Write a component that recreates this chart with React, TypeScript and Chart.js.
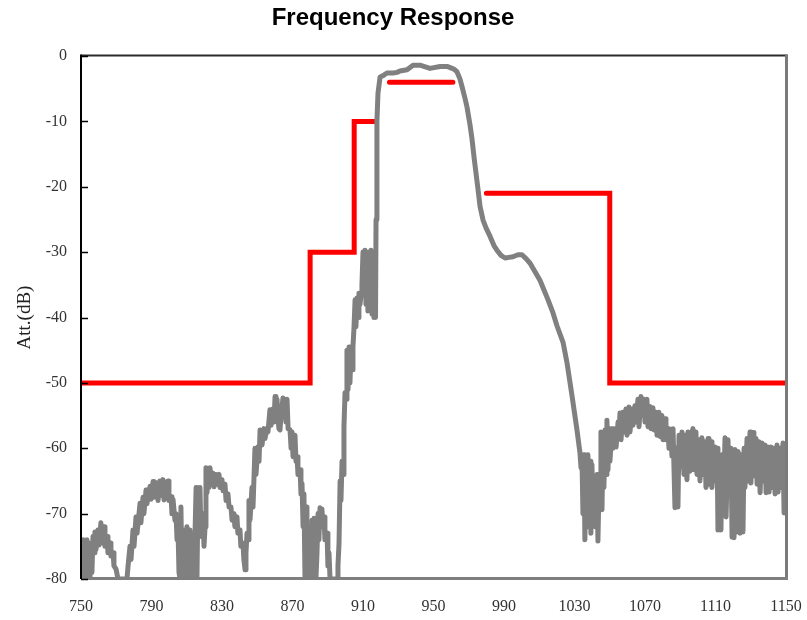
import React, { useEffect, useRef } from "react";
import { Chart, registerables } from "chart.js";

Chart.register(...registerables);

const chartTitle = "Frequency Response";
const yAxisTitle = "Att.(dB)";
const xTicks = [750, 790, 830, 870, 910, 950, 990, 1030, 1070, 1110, 1150];
const yTicks = [0, -10, -20, -30, -40, -50, -60, -70, -80];

// Specification mask (red), null = gap
const maskFreq = [750, 880, 880, 905, 905, 917, 921, 925, 961, 970, 980, 1050, 1050, 1150];
const maskAtt: (number | null)[] = [-50, -50, -30, -30, -10, -10, null, -4, -4, null, -21, -21, -50, -50];

// Measured response (gray): [MHz, dB]
const measuredResponse: [number, number][] = [
  [750.0, -76], [750.6, -79.5], [751.1, -74], [751.7, -79], [752.3, -74.5], [752.8, -80], [753.4, -74], [754.0, -79],
  [754.5, -75], [755.1, -80], [755.7, -74.5], [756.2, -79], [756.8, -73.5], [757.4, -76], [757.9, -72.8], [758.5, -75.5],
  [759.6, -72.5], [760.2, -74.8], [761.3, -71.4], [761.9, -74.5], [763.1, -72], [763.6, -75], [764.8, -73.5], [765.3, -76],
  [766.5, -74.5], [767.0, -76.5], [768.2, -76], [768.7, -78], [769.9, -78.5], [771.0, -80], [776.1, -80],
  [776.7, -78], [777.8, -75], [778.4, -77], [779.5, -72.5], [780.1, -75], [781.2, -70.5], [781.8, -73], [783.5, -68.4],
  [784.0, -71.4], [785.2, -67.5], [785.7, -70], [786.9, -66.4], [787.4, -68.5], [789.2, -65.8], [789.7, -67.8], [790.9, -65.1],
  [791.4, -67.5], [793.1, -65.3], [793.7, -68], [794.8, -65], [795.4, -67.2], [796.5, -64.8], [797.1, -67.9], [798.2, -65.2],
  [798.8, -67], [799.4, -65], [799.9, -68], [801.1, -67.4], [801.6, -70], [802.2, -67.8], [803.3, -71], [803.9, -70],
  [804.5, -74], [805.0, -72], [805.6, -79], [806.2, -80],
  [806.7, -69], [807.3, -80], [807.9, -73], [808.4, -80], [809.0, -72.5], [809.6, -79], [810.1, -72], [810.7, -80],
  [811.3, -72.5], [811.8, -78], [812.4, -73], [813.0, -80], [813.5, -74], [814.1, -80], [815.3, -66], [815.8, -80],
  [816.4, -66.5], [817.0, -73], [817.5, -66], [818.1, -73.5], [819.2, -70], [819.8, -75], [820.4, -72], [820.9, -63],
  [821.5, -66.8],
  [822.1, -63.5], [822.6, -66], [823.2, -63], [823.8, -65.5], [824.9, -63.8], [825.5, -65.9], [826.6, -64], [827.2, -65.5],
  [828.3, -64], [828.9, -66], [830.0, -64.8], [830.6, -66.5], [831.7, -65.5], [832.3, -68], [833.4, -67], [834.0, -69],
  [835.1, -69], [835.7, -71], [836.8, -70], [837.3, -72], [838.5, -70.5], [839.0, -73], [840.2, -72.5], [840.7, -75],
  [841.9, -74.5], [842.4, -77], [843.1, -78.6],
  [843.6, -76], [844.2, -73], [844.8, -74], [845.3, -68], [845.9, -71], [847.0, -66], [847.6, -69], [848.7, -60],
  [849.3, -64], [850.4, -59.8], [851.0, -62], [851.6, -57.2], [852.7, -59.5], [853.8, -57], [854.4, -58.5], [855.5, -57],
  [856.1, -57.5], [857.2, -54.1], [857.8, -56.5], [858.9, -54], [859.5, -56], [860.1, -52.1], [860.6, -55], [861.2, -52.5],
  [861.8, -55.5], [862.3, -57], [862.9, -57.2], [863.5, -55], [864.6, -52.3], [865.2, -55], [865.7, -52.5], [866.3, -56],
  [866.9, -52.5], [867.5, -57], [868.6, -57.2], [869.2, -60], [869.7, -57.5], [870.3, -61.3], [871.4, -58], [872.0, -62],
  [872.6, -61.3], [873.1, -64], [874.3, -63.3], [874.8, -67], [875.4, -65.4], [876.0, -72], [876.5, -67], [877.1, -80],
  [877.7, -69], [878.2, -80], [878.8, -72], [879.4, -80], [879.9, -72.5], [880.5, -80], [881.1, -71], [881.6, -80],
  [882.2, -70.7], [882.8, -71.4], [883.3, -80], [883.9, -76], [884.5, -70], [885.0, -74], [885.6, -69.1], [886.2, -72],
  [886.7, -69.3], [887.3, -72], [887.9, -70.5], [888.4, -74], [889.6, -73], [890.1, -78], [890.7, -76], [891.3, -80],
  [895.3, -80],
  [895.8, -78], [896.4, -74.5], [897.0, -65], [897.5, -68], [898.1, -62], [898.7, -64], [899.2, -56.7], [899.8, -51.5],
  [900.4, -52.5], [900.9, -45], [901.5, -51], [902.1, -44.5], [902.6, -50], [903.2, -45], [903.8, -48], [904.3, -44.5],
  [904.9, -41.5], [905.5, -37.3], [906.0, -41.4], [906.6, -37], [907.2, -40], [907.7, -36.3], [908.3, -38], [908.9, -36.5],
  [909.4, -35], [910.0, -30], [910.6, -34.5], [911.1, -29.7], [911.7, -38], [912.3, -30], [912.8, -39], [913.4, -30.5],
  [914.0, -38], [914.5, -29.7], [915.1, -39.5], [915.7, -31], [916.2, -40], [916.8, -33], [917.1, -40], [917.4, -25],
  [917.9, -10], [918.5, -5.7], [919.7, -3.2], [921.4, -3.0], [923.6, -2.6], [927.0, -2.6], [929.3, -2.5], [931.0, -2.3],
  [935.0, -2.1], [938.4, -1.4], [942.3, -1.4], [948.0, -1.9], [953.7, -1.6], [957.7, -1.6], [961.6, -2.0], [963.3, -2.4],
  [965.0, -3.5], [966.2, -4.7], [967.9, -6.5], [969.0, -7.8], [970.7, -10.5], [971.9, -12.8], [973.0, -15.5], [974.1, -17.9],
  [975.3, -20.5], [976.4, -23], [978.1, -25.1], [979.8, -26.3], [982.1, -27.6], [984.3, -29], [986.0, -29.7], [988.3, -30.5],
  [990.6, -30.9], [992.8, -30.8], [995.1, -30.7], [997.9, -30.4], [1000.2, -30.4], [1002.5, -31], [1004.8, -31.7], [1007.6, -33],
  [1010.4, -34.3], [1012.7, -35.8], [1015.0, -37.3], [1017.8, -39.3], [1020.1, -41.3], [1023.5, -43.8], [1025.8, -47], [1028.6, -52],
  [1031.4, -57.2], [1033.1, -60.7],
  [1033.7, -63], [1034.2, -61], [1034.8, -70], [1035.4, -61], [1035.9, -74], [1036.5, -62], [1037.1, -72], [1037.6, -61],
  [1038.2, -68], [1038.8, -62], [1039.3, -73], [1039.9, -62.5], [1040.5, -70], [1041.0, -66], [1041.6, -72], [1042.8, -64],
  [1043.3, -74.2], [1043.9, -66], [1044.5, -69], [1045.0, -57.5], [1045.6, -69.4], [1046.2, -58], [1046.7, -66], [1047.3, -57.2],
  [1047.9, -64], [1048.4, -55.7], [1049.0, -63.3], [1049.6, -57], [1050.1, -62], [1051.3, -57], [1051.8, -60], [1053.0, -57],
  [1053.6, -59.8], [1054.7, -56], [1055.2, -58.5], [1055.8, -54.6], [1056.4, -58.7], [1057.5, -54.5], [1058.1, -57.5], [1059.2, -54],
  [1059.8, -58], [1060.9, -53.7], [1061.5, -57.5], [1062.6, -54], [1063.2, -56.5], [1064.3, -53.5], [1064.9, -56], [1066.0, -52.5],
  [1066.6, -56.7], [1067.7, -52.1], [1068.3, -55], [1069.4, -52.5], [1070.0, -56], [1071.1, -52.5], [1071.7, -56.7], [1072.8, -53.6],
  [1073.4, -57], [1074.5, -53.8], [1075.1, -57.2], [1076.2, -54.5], [1076.8, -58], [1077.9, -54.5], [1078.5, -58.2], [1079.6, -55],
  [1080.2, -58.7], [1081.4, -55.5], [1081.9, -58.7], [1083.1, -57], [1083.6, -60], [1084.8, -58.2], [1085.3, -61.2], [1085.9, -57],
  [1087.0, -69.1], [1087.6, -60], [1088.7, -69], [1089.3, -58], [1090.4, -62.8], [1091.0, -57.5], [1092.1, -64], [1092.7, -58],
  [1093.8, -64.8], [1094.4, -57.5], [1095.5, -63.5], [1096.1, -58.3], [1097.2, -57], [1097.8, -63.3], [1098.9, -57.5], [1099.5, -64],
  [1100.6, -58.7], [1101.2, -65], [1102.3, -58.4], [1102.9, -64], [1104.0, -59], [1104.6, -66], [1105.8, -58.5], [1106.3, -65.5],
  [1107.5, -59], [1108.0, -66], [1109.2, -59.8], [1109.7, -65], [1110.9, -60], [1111.4, -72.5], [1112.0, -61], [1112.6, -64],
  [1113.1, -72.5], [1113.7, -61], [1114.3, -70], [1115.4, -58.4], [1116.0, -70.5], [1117.1, -58.7], [1117.7, -67], [1118.8, -60],
  [1119.4, -73.6], [1119.9, -61], [1120.5, -73.7], [1121.1, -60.2], [1122.2, -72.8], [1122.8, -60.5], [1123.9, -73], [1124.5, -61],
  [1125.6, -72.8], [1126.2, -60], [1126.7, -66], [1127.9, -58.5], [1128.4, -65], [1129.6, -57.5], [1130.1, -65.3], [1131.3, -57.6],
  [1131.8, -64.2], [1133.0, -58.5], [1133.6, -65.5], [1134.7, -59], [1135.3, -66.8], [1136.4, -59.2], [1137.0, -65], [1138.1, -59.5],
  [1138.7, -66.8], [1139.8, -59.8], [1140.4, -66.7], [1141.5, -59.8], [1142.1, -66], [1143.2, -60], [1143.8, -67], [1144.9, -59.5],
  [1145.5, -66.7], [1146.6, -60], [1147.2, -66], [1148.3, -59.2], [1148.9, -69.9], [1149.5, -62], [1150.0, -60],
];

const serif = '"Liberation Serif", "Times New Roman", Times, serif';
const sans = '"Liberation Sans", Arial, Helvetica, sans-serif';

const framePlugin = {
  id: "frame",
  afterDatasetsDraw(chart: any) {
    const { ctx, chartArea, scales } = chart;
    const { left, right, top, bottom } = chartArea;
    const line = (x1: number, y1: number, x2: number, y2: number, color: string, w: number) => {
      ctx.beginPath();
      ctx.strokeStyle = color;
      ctx.lineWidth = w;
      ctx.moveTo(x1, y1);
      ctx.lineTo(x2, y2);
      ctx.stroke();
    };
    ctx.save();
    line(left, top - 0.5, right + 1.5, top - 0.5, "#2a2a2a", 2);
    line(right + 0.5, top - 1.5, right + 0.5, bottom, "#7a7a7a", 3);
    line(left, bottom - 0.5, right + 2, bottom - 0.5, "#7f7f7f", 3);
    line(left, top - 1.5, left, bottom, "#000000", 2);
    const y = scales.y;
    y.ticks.forEach((t: any) => {
      const py = Math.round(y.getPixelForValue(t.value)) + 0.5;
      line(left, py, left + 7, py, "#000000", 1.5);
    });
    ctx.restore();
  },
};

export default function App() {
  const canvasRef = useRef<HTMLCanvasElement | null>(null);

  useEffect(() => {
    const canvas = canvasRef.current;
    if (!canvas) return;
    const chart = new Chart(canvas, {
      type: "line",
      data: {
        datasets: [
          {
            label: "Response",
            data: measuredResponse.map(([x, y]) => ({ x, y })),
            borderColor: "#808080",
            borderWidth: 5,
            pointRadius: 0,
            tension: 0,
            fill: false,
            borderJoinStyle: "round",
            borderCapStyle: "round",
          },
          {
            label: "Mask",
            data: maskFreq.map((x, i) => ({ x, y: maskAtt[i] })),
            borderColor: "#ff0000",
            borderWidth: 5,
            pointRadius: 0,
            tension: 0,
            fill: false,
            spanGaps: false,
            borderJoinStyle: "miter",
            borderCapStyle: "round",
          },
        ] as any,
      },
      options: {
        responsive: false,
        animation: false,
        events: [],
        layout: { padding: { left: 0, right: 21, top: 0, bottom: 0 } },
        plugins: {
          legend: { display: false },
          tooltip: { enabled: false },
          title: {
            display: true,
            text: chartTitle,
            color: "#000000",
            font: { family: sans, size: 24, weight: "bold" },
            padding: { top: 4, bottom: 23.2 },
          },
        },
        scales: {
          x: {
            type: "linear",
            min: 750,
            max: 1150,
            afterBuildTicks: (s: any) => {
              s.ticks = xTicks.map((v) => ({ value: v }));
            },
            afterFit: (s: any) => {
              s.height = 41;
              s.paddingLeft = 0;
              s.paddingRight = 0;
            },
            grid: { display: false, drawTicks: false },
            border: { display: false },
            ticks: {
              autoSkip: false,
              maxRotation: 0,
              minRotation: 0,
              padding: 18,
              color: "#333333",
              font: { family: serif, size: 16 },
              callback: (v: any) => String(v),
            },
          },
          y: {
            type: "linear",
            min: -80,
            max: 0,
            afterBuildTicks: (s: any) => {
              s.ticks = yTicks.map((v) => ({ value: v }));
            },
            afterFit: (s: any) => {
              s.width = 81;
              s.paddingTop = 0;
              s.paddingBottom = 0;
            },
            grid: { display: false, drawTicks: false },
            border: { display: false },
            title: {
              display: true,
              text: yAxisTitle,
              color: "#222222",
              font: { family: serif, size: 19 },
              padding: { top: 14, bottom: 0 },
            },
            ticks: {
              padding: 14,
              color: "#333333",
              font: { family: serif, size: 16 },
              callback: (v: any) => String(v),
            },
          },
        },
      } as any,
      plugins: [framePlugin],
    });
    return () => chart.destroy();
  }, []);

  return (
    <div style={{ position: "absolute", left: 0, top: 0, width: 807, height: 620, background: "#ffffff" }}>
      <canvas ref={canvasRef} width={807} height={620} style={{ display: "block", width: 807, height: 620 }} />
    </div>
  );
}
